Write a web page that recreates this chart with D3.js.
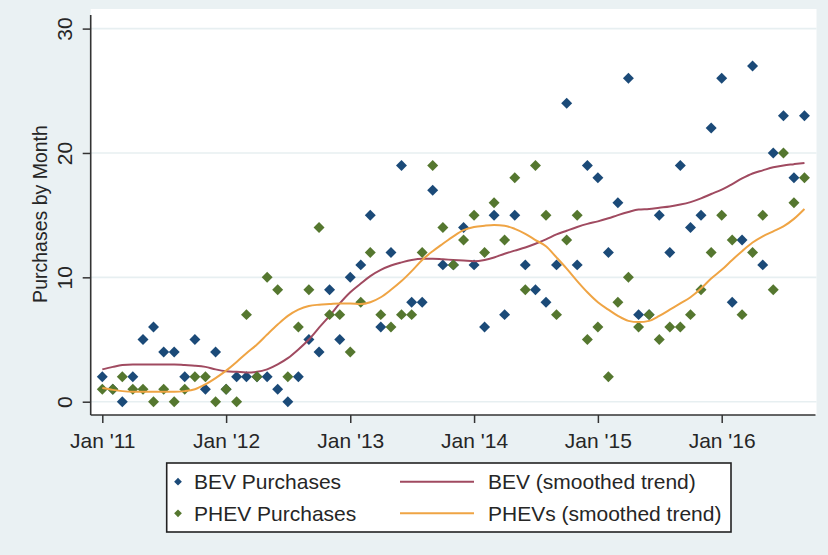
<!DOCTYPE html>
<html>
<head>
<meta charset="utf-8">
<script src="https://cdn.jsdelivr.net/npm/d3@7"></script>
<style>
  html, body { margin: 0; padding: 0; background: #eaf1f3; }
  svg { display: block; font-family: "Liberation Sans", Arial, sans-serif; }
</style>
</head>
<body>
<svg id="chart" width="828" height="555"></svg>
<script>
// ---- data (monthly, Jan 2011 .. Sep 2016) ----
const startMonth = "2011-01-01";
const bevPurchases = [2,1,0,2,5,6,4,4,2,5,1,4, 1,2,2,2,2,1,0,2,5,4,9,5, 10,11,15,6,12,19,8,8,17,11,11,14,
  11,6,15,7,15,11,9,8,11,24,11,19, 18,12,16,26,7,7,15,12,19,14,15,22, 26,8,13,27,11,20,23,18,23];
const phevPurchases = [1,1,2,1,1,0,1,0,1,2,2,0, 1,0,7,2,10,9,2,6,9,14,7,7, 4,8,12,7,6,7,7,12,19,14,11,13,
  15,12,16,13,18,9,19,15,7,13,15,5, 6,2,8,10,6,7,5,6,6,7,9,12, 15,13,7,12,15,9,20,16,18];
const bevTrend = [2.6,2.8,2.95,3.0,3.0,3.0,3.0,3.0,2.95,2.9,2.8,2.6, 2.45,2.4,2.35,2.4,2.6,3.0,3.5,4.2,5.0,5.95,6.9,7.9,
  8.8,9.5,10.1,10.6,10.95,11.2,11.4,11.5,11.5,11.45,11.4,11.35, 11.3,11.4,11.6,11.9,12.15,12.4,12.7,13.05,13.45,13.75,14.05,14.3,
  14.5,14.75,15.0,15.25,15.45,15.5,15.6,15.7,15.85,16.05,16.35,16.7, 17.05,17.5,17.95,18.35,18.6,18.85,19.0,19.1,19.2];
const phevTrend = [1.1,0.95,0.85,0.8,0.8,0.8,0.8,0.8,0.85,1.0,1.4,1.9, 2.5,3.2,3.9,4.6,5.4,6.2,6.9,7.4,7.7,7.8,7.85,7.9,
  7.9,7.85,8.0,8.4,9.0,9.7,10.5,11.4,12.1,12.7,13.3,13.8, 14.05,14.15,14.2,14.15,13.9,13.5,13.0,12.5,11.6,10.7,9.7,8.8,
  8.0,7.4,6.9,6.5,6.4,6.5,6.9,7.4,7.9,8.4,9.1,9.9, 10.6,11.4,12.1,12.8,13.3,13.7,14.1,14.7,15.5];
const yTicks = [0, 10, 20, 30];
const xTickYears = [2011, 2012, 2013, 2014, 2015, 2016];
const xTickLabels = ["Jan '11", "Jan '12", "Jan '13", "Jan '14", "Jan '15", "Jan '16"];
const legendLabels = ["BEV Purchases", "BEV (smoothed trend)", "PHEV Purchases", "PHEVs (smoothed trend)"];

// ---- colours ----
const cBev = "#1b4a78", cPhev = "#55772f", cBevLine = "#a04a60", cPhevLine = "#efa444";
const cText = "#262626";

const svg = d3.select("#chart");
const t0 = new Date(startMonth + "T00:00:00Z");
const dates = bevPurchases.map((_, i) => d3.utcMonth.offset(t0, i));

const x = d3.scaleUtc()
  .domain([new Date(Date.UTC(2011,0,1)), new Date(Date.UTC(2016,0,1))])
  .range([102.3, 721.7]);
const y = d3.scaleLinear().domain([0, 30]).range([401.7, 28.6]);

const plotL = 90.7, plotR = 816.5, plotT = 9, plotB = 415;

// background
svg.append("rect").attr("width", 828).attr("height", 555).attr("fill", "#eaf1f3");
svg.append("rect").attr("x", plotL).attr("y", plotT).attr("width", plotR - plotL).attr("height", plotB - plotT).attr("fill", "#ffffff");

// grid
svg.append("g").selectAll("line").data(yTicks).join("line")
  .attr("x1", plotL).attr("x2", plotR)
  .attr("y1", d => y(d)).attr("y2", d => y(d))
  .attr("stroke", "#e7eff1").attr("stroke-width", 1.6);

// y axis
const gy = svg.append("g").attr("transform", `translate(${plotL},0)`)
  .call(d3.axisLeft(y).tickValues(yTicks).tickSize(8).tickFormat(d3.format("d")));
gy.select(".domain").remove();
gy.selectAll(".tick line").attr("stroke", "#333").attr("stroke-width", 1.5);
gy.selectAll(".tick text")
  .attr("transform", "rotate(-90)").attr("x", 0).attr("y", -19).attr("dy", 0)
  .attr("text-anchor", "middle").attr("fill", cText).attr("font-size", 21);
svg.append("line").attr("x1", plotL).attr("x2", plotL).attr("y1", 15).attr("y2", plotB)
  .attr("stroke", "#333").attr("stroke-width", 1.6);

// x axis
const gx = svg.append("g").attr("transform", `translate(0,${plotB})`)
  .call(d3.axisBottom(x).tickValues(xTickYears.map(yr => new Date(Date.UTC(yr,0,1))))
    .tickSize(8).tickFormat((d, i) => xTickLabels[i]));
gx.select(".domain").remove();
gx.selectAll(".tick line").attr("stroke", "#333").attr("stroke-width", 1.5);
gx.selectAll(".tick text").attr("y", 33).attr("dy", 0).attr("fill", cText).attr("font-size", 21);
svg.append("line").attr("x1", plotL).attr("x2", plotR - 1).attr("y1", plotB).attr("y2", plotB)
  .attr("stroke", "#333").attr("stroke-width", 1.6);

// y axis title
svg.append("text").attr("transform", `translate(47,214) rotate(-90)`)
  .attr("text-anchor", "middle").attr("fill", cText).attr("font-size", 19.5)
  .text("Purchases by Month");

// marks
const diamond = d3.symbol().type(d3.symbolSquare).size(60);
const line = d3.line().x((d, i) => x(dates[i])).y(d => y(d)).curve(d3.curveMonotoneX);

svg.append("g").selectAll("path").data(bevPurchases).join("path")
  .attr("d", diamond)
  .attr("transform", (d, i) => `translate(${x(dates[i])},${y(d)}) rotate(45)`)
  .attr("fill", cBev);
svg.append("path").datum(bevTrend).attr("d", line)
  .attr("fill", "none").attr("stroke", cBevLine).attr("stroke-width", 2);
svg.append("g").selectAll("path").data(phevPurchases).join("path")
  .attr("d", diamond)
  .attr("transform", (d, i) => `translate(${x(dates[i])},${y(d)}) rotate(45)`)
  .attr("fill", cPhev);
svg.append("path").datum(phevTrend).attr("d", line)
  .attr("fill", "none").attr("stroke", cPhevLine).attr("stroke-width", 2);

// legend
const lg = svg.append("g");
lg.append("rect").attr("x", 166.7).attr("y", 463).attr("width", 564.3).attr("height", 69)
  .attr("fill", "#ffffff").attr("stroke", "#222").attr("stroke-width", 1.6);
const rows = [481.7, 513.3];
const smallDiamond = d3.symbol().type(d3.symbolSquare).size(30);
[[cBev, rows[0]], [cPhev, rows[1]]].forEach(([c, ry], k) => {
  lg.append("path").attr("d", smallDiamond)
    .attr("transform", `translate(178,${ry}) rotate(45)`).attr("fill", c);
  lg.append("text").attr("x", 194).attr("y", ry).attr("dy", "0.36em")
    .attr("fill", cText).attr("font-size", 21).text(legendLabels[k * 2]);
});
[[cBevLine, rows[0]], [cPhevLine, rows[1]]].forEach(([c, ry], k) => {
  lg.append("line").attr("x1", 400).attr("x2", 474).attr("y1", ry).attr("y2", ry)
    .attr("stroke", c).attr("stroke-width", 2);
  lg.append("text").attr("x", 488).attr("y", ry).attr("dy", "0.36em")
    .attr("fill", cText).attr("font-size", 21).text(legendLabels[k * 2 + 1]);
});
</script>
</body>
</html>
